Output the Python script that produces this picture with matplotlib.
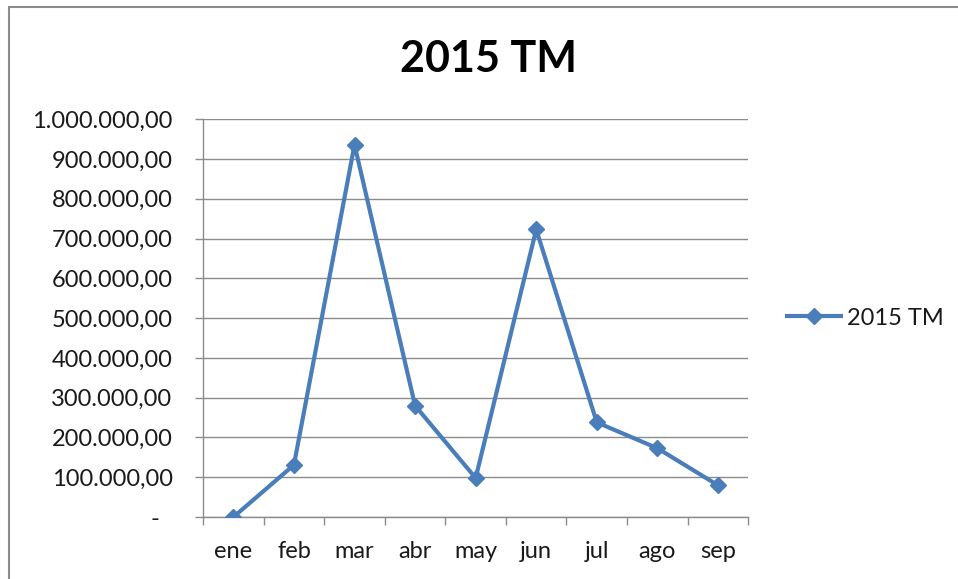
import matplotlib
matplotlib.use("Agg")
import matplotlib.pyplot as plt
from matplotlib.patches import Rectangle
from matplotlib.ticker import FuncFormatter
from matplotlib.transforms import ScaledTranslation

MONTHS = ["ene", "feb", "mar", "abr", "may", "jun", "jul", "ago", "sep"]
TM_2015 = [0, 131000, 936000, 280000, 98000, 723000, 238000, 173000, 80000]
Y_TICKS = list(range(0, 1000001, 100000))

LINE_COLOR = "#4A7EBB"
GRID_COLOR = "#8C8C8C"
TEXT_COLOR = "#1a1a1a"

plt.rcParams["font.family"] = ["Lato", "DejaVu Sans"]


def fmt_es(v, pos):
    # accounting style: zero shown as a dash, Spanish separators
    if v == 0:
        return "-"
    s = f"{v:,.2f}"
    return s.replace(",", "X").replace(".", ",").replace("X", ".")


fig = plt.figure(figsize=(9.58, 5.79), dpi=100)
ax = fig.add_axes([0.212, 0.107, 0.569, 0.687])

x = list(range(len(MONTHS)))
ax.plot(x, TM_2015, color=LINE_COLOR, linewidth=3.0, marker="D",
        markersize=8, label="2015 TM", zorder=3)

ax.set_xlim(-0.5, len(MONTHS) - 0.5)
ax.set_ylim(0, 1000000)
ax.set_yticks(Y_TICKS)
ax.yaxis.set_major_formatter(FuncFormatter(fmt_es))
ax.set_xticks(x)
ax.set_xticklabels(MONTHS)
ax.set_xticks([i - 0.5 for i in range(len(MONTHS) + 1)], minor=True)
ax.tick_params(axis="x", which="major", length=0, pad=17, labelsize=17,
               colors=TEXT_COLOR)
ax.tick_params(axis="x", which="minor", length=6, color=GRID_COLOR, width=1)
ax.tick_params(axis="y", length=6, color=GRID_COLOR, width=1, pad=16,
               labelsize=17, labelcolor=TEXT_COLOR)

# nudge the "-" zero label left, like Excel's accounting format
zero_label = ax.yaxis.get_major_ticks()[0].label1
zero_label.set_transform(zero_label.get_transform()
                         + ScaledTranslation(-0.13, 0, fig.dpi_scale_trans))

ax.grid(axis="y", color=GRID_COLOR, linewidth=1)
ax.set_axisbelow(True)
for side in ["top", "right"]:
    ax.spines[side].set_visible(False)
for side in ["left", "bottom"]:
    ax.spines[side].set_color(GRID_COLOR)
    ax.spines[side].set_linewidth(1)

fig.text(0.510, 0.898, "2015 TM", ha="center", va="center",
         fontsize=31, fontweight="bold", color="black")

ax.legend(loc="center left", bbox_to_anchor=(1.04, 0.5), frameon=False,
          fontsize=17, handlelength=2.3, handletextpad=0.25,
          labelcolor=TEXT_COLOR, borderaxespad=0.3)

# chart area border
fig.patches.append(Rectangle((0.009, -0.01), 1.02, 0.998,
                             transform=fig.transFigure, fill=False,
                             edgecolor="#8C8C8C", linewidth=1.5))

fig.savefig("out.png", dpi=100)
